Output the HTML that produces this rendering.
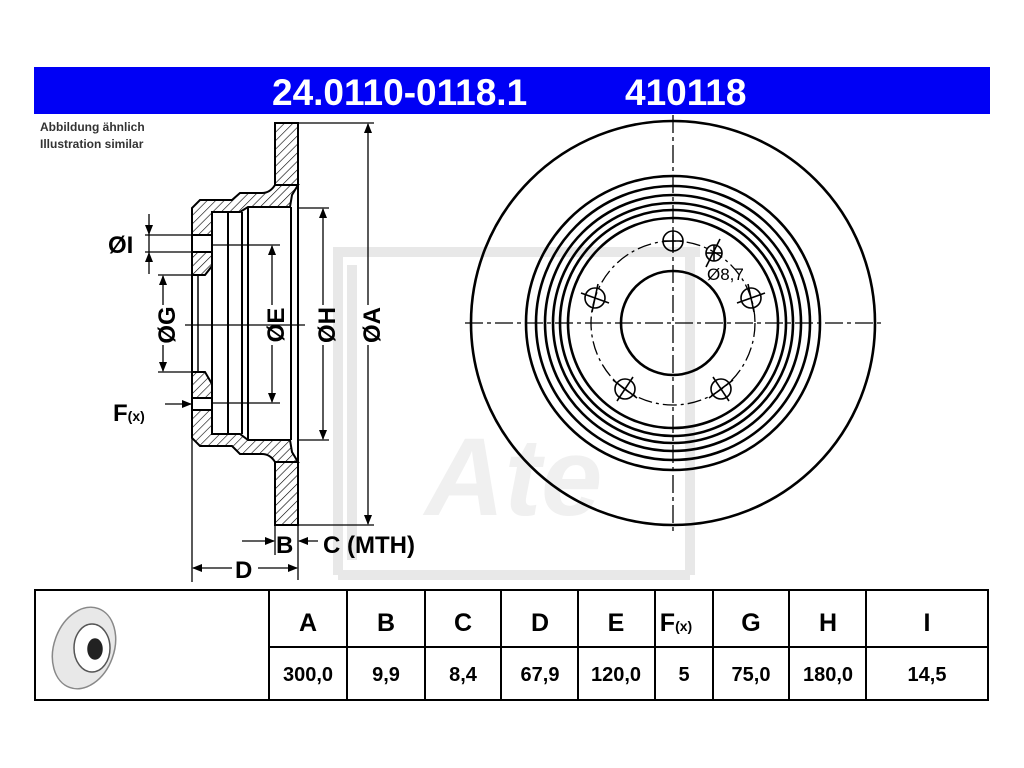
<!DOCTYPE html>
<html><head><meta charset="utf-8"><style>
html,body{margin:0;padding:0;background:#fff;}
body{width:1024px;height:768px;position:relative;overflow:hidden;font-family:"Liberation Sans",Arial,sans-serif;}
</style></head><body>
<svg width="1024" height="768" viewBox="0 0 1024 768" xmlns="http://www.w3.org/2000/svg" style="position:absolute;left:0;top:0">
<defs>
<pattern id="h" patternUnits="userSpaceOnUse" width="6" height="6" patternTransform="rotate(45)">
<rect width="6" height="6" fill="#fff"/><line x1="0" y1="0" x2="0" y2="6" stroke="#000" stroke-width="1.2"/>
</pattern>
<marker id="ar" markerWidth="10" markerHeight="8" refX="9" refY="4" orient="auto" markerUnits="userSpaceOnUse"><path d="M0,0 L10,4 L0,8 z" fill="#000"/></marker>
</defs>
<!-- watermark -->
<g fill="none" stroke="#e8e8e8" stroke-width="10">
<path d="M338 575 V252 H700"/>
<path d="M338 575 H690"/>
<path d="M352 560 V265"/>
<path d="M690 252 V575"/>
</g>
<text x="425" y="515" font-size="110" font-style="italic" font-weight="bold" fill="#f0f0f0" font-family="Liberation Sans, sans-serif">Ate</text>

<!-- header -->
<rect x="34" y="67" width="956" height="47" fill="#0000f5"/>
<text x="272" y="105" font-size="37" font-weight="bold" fill="#fff">24.0110-0118.1</text>
<text x="625" y="105" font-size="37" font-weight="bold" fill="#fff">410118</text>
<text x="40" y="131" font-size="12" font-weight="bold" fill="#333">Abbildung ähnlich</text>
<text x="40" y="148" font-size="12" font-weight="bold" fill="#333">Illustration similar</text>

<!-- cross section -->
<g stroke="#000" stroke-width="2">
<rect x="275" y="123" width="23" height="62" fill="url(#h)"/>
<rect x="275" y="462" width="23" height="63" fill="url(#h)"/>
<path d="M275 185 Q270 193 262 193 H240 L232 200 H200 L192 208 V235 H212 V212 H240 L248 207 H290 L292 195 L298 185 Z" fill="url(#h)"/>
<path d="M275 462 Q270 454 262 454 H240 L232 446 H200 L192 438 V410 H212 V434 H240 L248 440 H290 L292 452 L298 462 Z" fill="url(#h)"/>
<path d="M192 252 H212 V266 L205 275 H192 Z" fill="url(#h)"/>
<path d="M192 398 H212 V384 L205 372 H192 Z" fill="url(#h)"/>
<line x1="192" y1="235" x2="192" y2="410"/>
<line x1="298" y1="185" x2="298" y2="462"/>
<line x1="291" y1="207" x2="291" y2="440"/>
<line x1="212" y1="212" x2="212" y2="434"/>
<line x1="228" y1="212" x2="228" y2="434"/>
<line x1="242" y1="212" x2="242" y2="434"/>
<line x1="248" y1="207" x2="248" y2="440"/>
<line x1="198" y1="275" x2="198" y2="372" stroke-width="1.5"/>
</g>
<g stroke="#000" stroke-width="1.3" fill="none">
<line x1="298" y1="123" x2="374" y2="123"/><line x1="298" y1="525" x2="374" y2="525"/>
<line x1="368" y1="305" x2="368" y2="124" marker-end="url(#ar)"/>
<line x1="368" y1="345" x2="368" y2="524" marker-end="url(#ar)"/>
<line x1="298" y1="208" x2="329" y2="208"/><line x1="298" y1="440" x2="329" y2="440"/>
<line x1="323" y1="305" x2="323" y2="209" marker-end="url(#ar)"/>
<line x1="323" y1="345" x2="323" y2="439" marker-end="url(#ar)"/>
<line x1="212" y1="245" x2="280" y2="245"/><line x1="212" y1="403" x2="280" y2="403"/>
<line x1="272" y1="305" x2="272" y2="246" marker-end="url(#ar)"/>
<line x1="272" y1="345" x2="272" y2="402" marker-end="url(#ar)"/>
<line x1="185" y1="325" x2="305" y2="325"/>
<line x1="158" y1="275" x2="198" y2="275"/><line x1="158" y1="372" x2="198" y2="372"/>
<line x1="163" y1="305" x2="163" y2="276" marker-end="url(#ar)"/>
<line x1="163" y1="345" x2="163" y2="371" marker-end="url(#ar)"/>
<line x1="145" y1="235" x2="200" y2="235"/><line x1="145" y1="252" x2="200" y2="252"/>
<line x1="149" y1="214" x2="149" y2="234" marker-end="url(#ar)"/>
<line x1="149" y1="274" x2="149" y2="253" marker-end="url(#ar)"/>
<line x1="149" y1="234" x2="149" y2="253"/>
<line x1="165" y1="404" x2="191" y2="404" marker-end="url(#ar)"/>
<line x1="298" y1="525" x2="298" y2="580"/><line x1="275" y1="525" x2="275" y2="555"/>
<line x1="192" y1="438" x2="192" y2="582"/>
<line x1="242" y1="541" x2="274" y2="541" marker-end="url(#ar)"/>
<line x1="318" y1="541" x2="299" y2="541" marker-end="url(#ar)"/>
<line x1="232" y1="568" x2="193" y2="568" marker-end="url(#ar)"/>
<line x1="258" y1="568" x2="297" y2="568" marker-end="url(#ar)"/>
</g>
<g font-weight="bold" font-size="24" fill="#000">
<text transform="translate(380,325) rotate(-90)" text-anchor="middle">ØA</text>
<text transform="translate(335,325) rotate(-90)" text-anchor="middle">ØH</text>
<text transform="translate(284,325) rotate(-90)" text-anchor="middle">ØE</text>
<text transform="translate(175,325) rotate(-90)" text-anchor="middle">ØG</text>
<text x="108" y="253">ØI</text>
<text x="113" y="421">F<tspan font-size="14">(x)</tspan></text>
<text x="276" y="553">B</text>
<text x="323" y="553">C (MTH)</text>
<text x="235" y="578">D</text>
</g>

<!-- front view -->
<g stroke="#000" stroke-width="2.6" fill="none">
<circle cx="673" cy="323" r="202"/>
<circle cx="673" cy="323" r="147"/>
<circle cx="673" cy="323" r="137"/>
<circle cx="673" cy="323" r="128"/>
<circle cx="673" cy="323" r="120"/>
<circle cx="673" cy="323" r="113"/>
<circle cx="673" cy="323" r="105"/>
<circle cx="673" cy="323" r="52"/>
<circle cx="673" cy="323" r="82" stroke-width="1.3" stroke-dasharray="14 4 3 4"/>
<line x1="465" y1="323" x2="882" y2="323" stroke-width="1.3" stroke-dasharray="18 4 4 4"/>
<line x1="673" y1="115" x2="673" y2="533" stroke-width="1.3" stroke-dasharray="18 4 4 4"/>
</g>
<g stroke="#000" stroke-width="1.6" fill="none">
<g transform="translate(673,241)"><circle r="10"/><line x1="-10" y1="0" x2="10" y2="0"/><line x1="0" y1="-10" x2="0" y2="10"/></g>
<g transform="translate(751,298)"><circle r="10"/><line x1="-14" y1="5" x2="14" y2="-5"/><line x1="-3" y1="-14" x2="3" y2="14"/></g>
<g transform="translate(595,298)"><circle r="10"/><line x1="-14" y1="-5" x2="14" y2="5"/><line x1="3" y1="-14" x2="-3" y2="14"/></g>
<g transform="translate(625,389)"><circle r="10"/><line x1="-12" y1="-9" x2="12" y2="9"/><line x1="8" y1="-12" x2="-8" y2="12"/></g>
<g transform="translate(721,389)"><circle r="10"/><line x1="12" y1="-9" x2="-12" y2="9"/><line x1="-8" y1="-12" x2="8" y2="12"/></g>
<g transform="translate(714,253)"><circle r="8"/><line x1="-8" y1="0" x2="8" y2="0"/><line x1="0" y1="-8" x2="0" y2="8"/><line x1="6" y1="-14" x2="-8" y2="14"/></g>
</g>
<text x="707" y="280" font-size="17" fill="#000">Ø8,7</text>

<!-- table -->
<g stroke="#000" stroke-width="2" fill="none">
<rect x="35" y="590" width="953" height="110"/>
<line x1="269" y1="647" x2="988" y2="647"/>
<line x1="269" y1="590" x2="269" y2="700"/>
<line x1="347" y1="590" x2="347" y2="700"/>
<line x1="425" y1="590" x2="425" y2="700"/>
<line x1="501" y1="590" x2="501" y2="700"/>
<line x1="578" y1="590" x2="578" y2="700"/>
<line x1="655" y1="590" x2="655" y2="700"/>
<line x1="713" y1="590" x2="713" y2="700"/>
<line x1="789" y1="590" x2="789" y2="700"/>
<line x1="866" y1="590" x2="866" y2="700"/>
</g>
<g fill="none" stroke="#888" stroke-width="1.5">
<ellipse cx="84" cy="648" rx="30" ry="42" transform="rotate(20 84 648)" fill="#e8e8e8"/>
<ellipse cx="92" cy="648" rx="18" ry="24" fill="#fff" stroke="#555"/>
<ellipse cx="95" cy="649" rx="7" ry="10" fill="#222" stroke="#222"/>
</g>
<g font-weight="bold" font-size="25" fill="#000" text-anchor="middle">
<text x="308" y="631">A</text><text x="386" y="631">B</text><text x="463" y="631">C</text>
<text x="540" y="631">D</text><text x="616" y="631">E</text>
<text x="676" y="631">F<tspan font-size="14">(x)</tspan></text>
<text x="751" y="631">G</text><text x="828" y="631">H</text><text x="927" y="631">I</text>
</g>
<g font-size="20" fill="#000" text-anchor="middle" font-weight="bold">
<text x="308" y="681">300,0</text><text x="386" y="681">9,9</text><text x="463" y="681">8,4</text>
<text x="540" y="681">67,9</text><text x="616" y="681">120,0</text><text x="684" y="681">5</text>
<text x="751" y="681">75,0</text><text x="828" y="681">180,0</text><text x="927" y="681">14,5</text>
</g>
</svg>
</body></html>
